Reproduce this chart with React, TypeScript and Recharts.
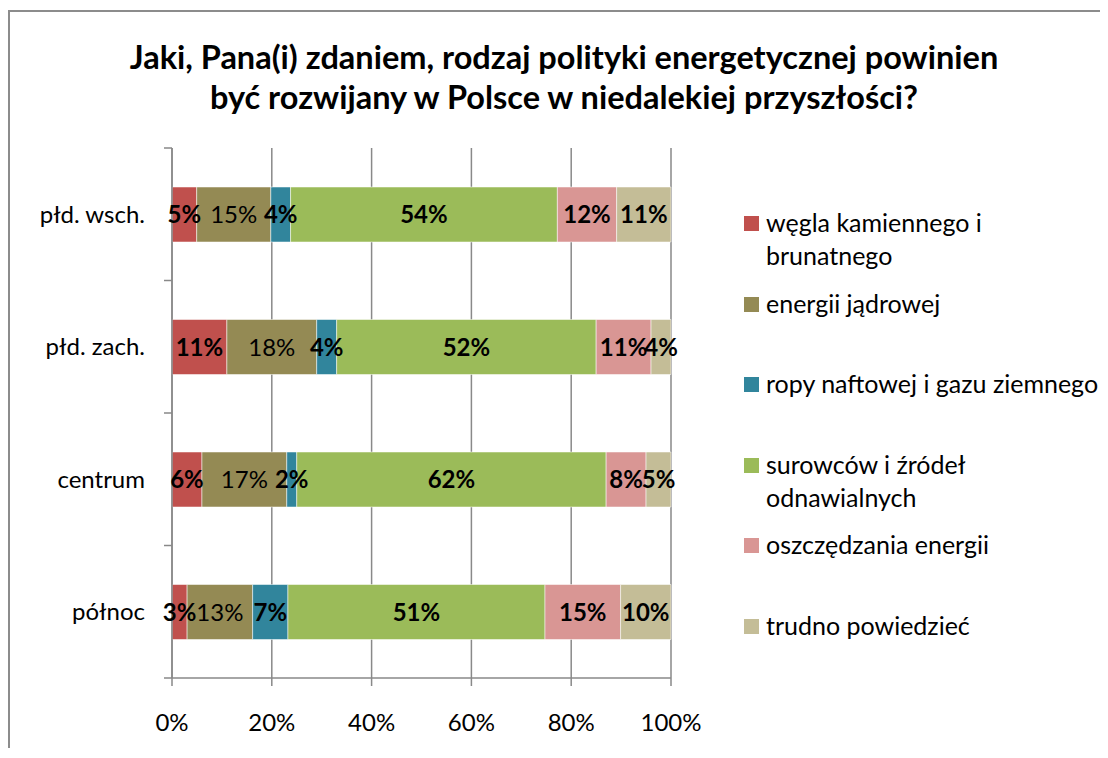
import React from "react";
import { BarChart, Bar, XAxis, YAxis, CartesianGrid, LabelList } from "recharts";

// regions, top to bottom
const regions = ["płd. wsch.", "płd. zach.", "centrum", "północ"];

const wegla = [5, 11, 6, 3];
const jadrowej = [15, 18, 17, 13];
const ropy = [4, 4, 2, 7];
const odnawialne = [54, 52, 62, 51];
const oszczedzanie = [12, 11, 8, 15];
const trudno = [11, 4, 5, 10];

const seriesNames = [
  "węgla kamiennego i\nbrunatnego",
  "energii jądrowej",
  "ropy naftowej i gazu ziemnego",
  "surowców i źródeł\nodnawialnych",
  "oszczędzania energii",
  "trudno powiedzieć",
];
const seriesKeys = ["wegla", "jadrowej", "ropy", "odnawialne", "oszczedzanie", "trudno"];
const seriesValues = [wegla, jadrowej, ropy, odnawialne, oszczedzanie, trudno];
const colors = ["#C0504D", "#948A54", "#31859C", "#9BBB59", "#D99694", "#C4BD97"];
const boldLabels = [true, false, true, true, true, true];

const xTicks = [0, 0.2, 0.4, 0.6, 0.8, 1];

const data = regions.map((region, i) => {
  const row: Record<string, string | number> = { region };
  seriesKeys.forEach((k, s) => {
    row[k] = seriesValues[s][i];
  });
  return row;
});

const FONT = "Lato, 'Open Sans', sans-serif";
const GRID = "#898989";
const FS = 24;
const Y_MARGIN = 27;

function RegionTick(props: any) {
  const { x, y, payload, index, visibleTicksCount } = props;
  const half = payload && payload.offset ? payload.offset : 66.25;
  const axisX = x + Y_MARGIN;
  return (
    <g>
      <line x1={axisX - 8} x2={axisX} y1={y - half} y2={y - half} stroke={GRID} strokeWidth={1.5} />
      {index === visibleTicksCount - 1 && (
        <line x1={axisX - 8} x2={axisX} y1={y + half} y2={y + half} stroke={GRID} strokeWidth={1.5} />
      )}
      <text x={x} y={y} dy="0.35em" textAnchor="end" fill="#000" fontSize={FS} fontFamily={FONT}>
        {payload.value}
      </text>
    </g>
  );
}

function LegendBox() {
  return (
    <div style={{ position: "absolute", left: 736, top: 199, fontFamily: FONT, fontSize: 25, color: "#000" }}>
      {seriesNames.map((name, i) => (
        <div key={i} style={{ height: 80.6, display: "flex", alignItems: "flex-start" }}>
          <span
            style={{
              width: 15,
              height: 15,
              background: colors[i],
              marginTop: 9,
              marginRight: 7,
              flexShrink: 0,
            }}
          />
          <span style={{ whiteSpace: "pre-line", lineHeight: "33px", marginTop: -1 }}>{name}</span>
        </div>
      ))}
    </div>
  );
}

export default function App() {
  return (
    <div style={{ position: "relative", width: 1092, height: 740, fontFamily: FONT }}>
      <div
        style={{
          position: "absolute",
          left: 0,
          top: 2,
          width: 1092,
          height: 738,
          borderLeft: "2px solid #8c8c8c",
          borderTop: "2px solid #8c8c8c",
          boxSizing: "border-box",
        }}
      />
      <div
        style={{
          position: "absolute",
          left: 16,
          top: 29,
          width: 1080,
          textAlign: "center",
          fontSize: 32.5,
          fontWeight: "bold",
          lineHeight: "40px",
          color: "#000",
        }}
      >
        Jaki, Pana(i) zdaniem, rodzaj polityki energetycznej powinien
        <br />
        być rozwijany w Polsce w niedalekiej przyszłości?
      </div>
      <div style={{ position: "absolute", left: 0, top: 0 }}>
        <BarChart
          width={1092}
          height={740}
          data={data}
          layout="vertical"
          stackOffset="expand"
          margin={{ top: 140, right: 429, bottom: 0, left: 0 }}
        >
          <CartesianGrid horizontal={false} vertical stroke={GRID} strokeWidth={1.5} />
          <XAxis
            type="number"
            domain={[0, 1]}
            ticks={xTicks}
            interval={0}
            tickFormatter={(v: number) => `${Math.round(v * 100)}%`}
            height={70}
            tickSize={8}
            tickMargin={28}
            axisLine={{ stroke: GRID, strokeWidth: 1.5 }}
            tickLine={{ stroke: GRID, strokeWidth: 1.5 }}
            tick={{ fill: "#000", fontSize: FS, fontFamily: FONT }}
          />
          <YAxis
            type="category"
            dataKey="region"
            width={164}
            tickSize={0}
            tickMargin={Y_MARGIN}
            tickLine={false}
            axisLine={{ stroke: GRID, strokeWidth: 1.5 }}
            tick={<RegionTick />}
          />
          {seriesKeys.map((k, s) => (
            <Bar
              key={k}
              dataKey={k}
              name={seriesNames[s]}
              stackId="a"
              fill={colors[s]}
              stroke="#ffffff"
              strokeOpacity={0.5}
              strokeWidth={1}
              barSize={55}
              isAnimationActive={false}
            >
              <LabelList
                dataKey={k}
                position="center"
                formatter={(v: any) => `${v}%`}
                fill="#000"
                fontSize={FS}
                fontFamily={FONT}
                fontWeight={boldLabels[s] ? "bold" : "normal"}
              />
            </Bar>
          ))}
        </BarChart>
      </div>
      <LegendBox />
    </div>
  );
}
